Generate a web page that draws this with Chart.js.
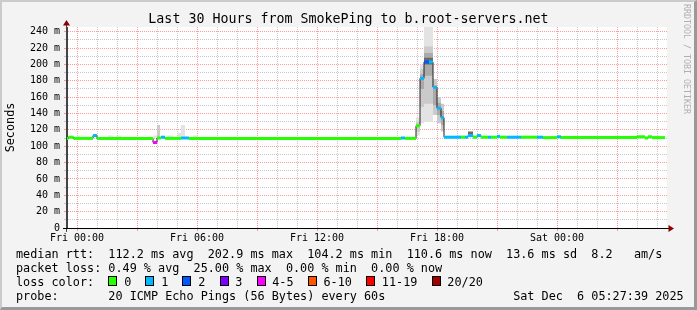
<!DOCTYPE html>
<html>
<head>
<meta charset="utf-8">
<title>SmokePing - b.root-servers.net</title>
<script src="https://cdn.jsdelivr.net/npm/chart.js@4.4.1/dist/chart.umd.min.js"></script>
<style>
  body { margin: 0; background: #fff; }
  #graph { position: relative; width: 697px; height: 310px; background: #f3f3f3; overflow: hidden;
           font-family: 'DejaVu Sans Mono', monospace; color: #000; }
  #graph canvas { position: absolute; left: 0; top: 0; }
  #frame { position: absolute; left: 0; top: 0; width: 697px; height: 310px; box-sizing: border-box;
           border-top: 2px solid #cbcbcb; border-left: 2px solid #cbcbcb;
           border-right: 3px solid #999; border-bottom: 3px solid #999; pointer-events: none; }
  #title { position: absolute; left: 0; top: 11px; width: 697px; text-align: center;
           font-size: 13.3px; line-height: 16px; white-space: pre; }
  .txt { position: absolute; left: 16px; font-size: 11.8px; line-height: 14px; white-space: pre; }
  .box { position: absolute; top: 276px; width: 9px; height: 10px; box-sizing: border-box; border: 1px solid #000; }
  #credit { position: absolute; left: 682px; top: 4px; writing-mode: vertical-rl; font-size: 8.3px;
            line-height: 10px; color: #b0b0b0; white-space: pre; }
</style>
</head>
<body>
<div id="graph">
  <canvas id="chart" width="697" height="310"></canvas>
  <div id="title">Last 30 Hours from SmokePing to b.root-servers.net</div>
  <div class="txt" style="top:247px">median rtt:  112.2 ms avg  202.9 ms max  104.2 ms min  110.6 ms now  13.6 ms sd  8.2   am/s</div>
  <div class="txt" style="top:261px">packet loss: 0.49 % avg  25.00 % max  0.00 % min  0.00 % now</div>
  <div class="txt" id="losses" style="top:275px">loss color:</div>
  <div class="txt" style="top:289px">probe:       20 ICMP Echo Pings (56 Bytes) every 60s                  Sat Dec  6 05:27:39 2025</div>
  <div id="credit">RRDTOOL / TOBI OETIKER</div>
  <div id="frame"></div>
</div>
<script>
// hours counted from Fri 00:00
var xTickHours = [0, 6, 12, 18, 24];
var xTickLabels = ['Fri 00:00', 'Fri 06:00', 'Fri 12:00', 'Fri 18:00', 'Sat 00:00'];
var yTickValues = [0, 20, 40, 60, 80, 100, 120, 140, 160, 180, 200, 220, 240];
var yTickLabels = ['0', '20 m', '40 m', '60 m', '80 m', '100 m', '120 m', '140 m', '160 m', '180 m', '200 m', '220 m', '240 m'];

// median rtt (ms) per step, with lost pings out of 20
var stepHours = [-0.5, -0.43, -0.18, 0.8, 1.0, 3.8, 4.0, 4.2, 4.4, 5.2, 5.6, 16.2, 16.4,
                 16.95, 17.15, 17.35, 17.6, 17.8, 18.0, 18.2, 18.35, 19.2, 19.4, 19.55, 19.8,
                 20.0, 20.2, 20.55, 20.7, 21.0, 21.15, 21.5, 22.2, 23.0, 23.3, 24.0, 24.2,
                 27.98, 28.4, 28.55, 28.75];
var medianMs  = [109.5, 111, 109.5, 113, 109.5, 104.5, 110, 111, 109.5, 110, 109.5, 110, 109.5,
                 125, 183, 203, 203, 172, 146.5, 135, 111, 111, 111, 113, 111,
                 113, 111, 111, 111, 112, 111, 111, 111, 111, 110.5, 111.5, 110.5,
                 111.5, 110, 111.5, 110.5];
var lostPings = [0, 0, 0, 1, 0, 4, 0, 1, 0, 1, 0, 1, 0,
                 0, 1, 2, 1, 1, 1, 1, 1, 0, 1, 1, 0,
                 1, 0, 1, 0, 1, 0, 1, 0, 1, 0, 1, 0,
                 0, 0, 0, 0];
var lastHour = 29.4;

var lossLabels = ['0', '1', '2', '3', '4-5', '6-10', '11-19', '20/20'];
var lossMax    = [0, 1, 2, 3, 5, 10, 19, 20];
var lossColors = ['#26ff00', '#00b8ff', '#0059ff', '#7e00ff', '#ff00ff', '#ff5500', '#ff0000', '#a10000'];

// smoke: spread of the 20 pings, shade 0 = outer (light) .. 3 = inner (dark)
var smokeFrom  = [0.0, 1.55, 1.95, 3.8, 4.0, 4.55, 5.05, 5.2, 5.8,
                  16.95, 16.95, 17.15, 17.15, 17.15, 17.35, 17.35, 17.35, 17.35,
                  17.8, 17.8, 18.0, 18.0, 18.2, 18.2, 19.0, 19.55, 26.9, 28.9];
var smokeTo    = [0.15, 1.8, 2.2, 4.0, 4.15, 4.8, 5.2, 5.4, 6.05,
                  17.15, 17.15, 17.35, 17.35, 17.35, 17.8, 17.8, 17.8, 17.8,
                  18.0, 18.0, 18.2, 18.2, 18.35, 18.35, 19.4, 19.8, 27.15, 29.15];
var smokeLow   = [110, 110, 110, 110, 110, 110, 110, 110, 110,
                  113, 118, 128, 148, 170, 130, 152, 186, 200,
                  138, 150, 128, 138, 118, 126, 110, 113, 110, 110];
var smokeHigh  = [113, 113, 113, 113, 126, 113, 116, 126, 113,
                  135, 130, 200, 194, 188, 250, 222, 214, 208,
                  182, 174, 160, 153, 152, 143, 113, 118, 113, 113];
var smokeShade = [0, 0, 0, 0, 1, 0, 0, 0, 0,
                  0, 1, 0, 1, 2, 0, 1, 2, 3,
                  1, 2, 1, 2, 1, 2, 0, 3, 0, 0];
var shadeColors = ['#e3e3e3', '#cacaca', '#aaaaaa', '#6a6a6a'];

var mono = "'DejaVu Sans Mono', monospace";
var majorGrid = 'rgba(255, 120, 120, 0.75)';
var minorGrid = 'rgba(185, 185, 185, 0.8)';

function lossColor(n) {
    for (var i = 0; i < lossMax.length; i++) {
        if (n <= lossMax[i]) return lossColors[i];
    }
    return lossColors[lossColors.length - 1];
}

function buildLossLegend() {
    var graph = document.getElementById('graph');
    var cw = 7.11;
    var x = 16 + 13 * cw;
    for (var i = 0; i < lossLabels.length; i++) {
        var box = document.createElement('div');
        box.className = 'box';
        box.style.left = x + 'px';
        box.style.background = lossColors[i];
        graph.appendChild(box);
        var lab = document.createElement('div');
        lab.className = 'txt';
        lab.style.top = '275px';
        lab.style.left = (x + 15.7) + 'px';
        lab.textContent = lossLabels[i];
        graph.appendChild(lab);
        x = x + 15.7 + (lossLabels[i].length + 2) * cw;
    }
}

// colored median strips, one piece per step
var medianColors = [];
function medianStrips() {
    var pts = [];
    for (var i = 0; i < stepHours.length; i++) {
        var end = i + 1 < stepHours.length ? stepHours[i + 1] : lastHour;
        var c = lossColor(lostPings[i]);
        pts.push({x: stepHours[i], y: medianMs[i]}, {x: end, y: medianMs[i]}, {x: end, y: null});
        medianColors.push(c, c, c);
    }
    return pts;
}

function medianLine() {
    var pts = [];
    for (var i = 0; i < stepHours.length; i++) {
        pts.push({x: stepHours[i], y: medianMs[i]});
    }
    pts.push({x: lastHour, y: medianMs[medianMs.length - 1]});
    return pts;
}

// each shade = lower edge + upper edge filled in between
function smokeSets() {
    var sets = [];
    for (var s = shadeColors.length - 1; s >= 0; s--) {
        var lo = [], hi = [];
        for (var i = 0; i < smokeFrom.length; i++) {
            if (smokeShade[i] !== s) continue;
            lo.push({x: smokeFrom[i], y: 0}, {x: smokeFrom[i], y: smokeLow[i]}, {x: smokeTo[i], y: smokeLow[i]}, {x: smokeTo[i], y: 0});
            hi.push({x: smokeFrom[i], y: 0}, {x: smokeFrom[i], y: smokeHigh[i]}, {x: smokeTo[i], y: smokeHigh[i]}, {x: smokeTo[i], y: 0});
        }
        sets.push({data: lo, borderWidth: 0, pointRadius: 0, fill: false});
        sets.push({data: hi, borderWidth: 0, pointRadius: 0, fill: '-1', backgroundColor: shadeColors[s]});
    }
    return sets;
}

var rrdFrame = {
    id: 'rrdFrame',
    beforeDraw: function (chart) {
        var a = chart.chartArea, ctx = chart.ctx;
        ctx.save();
        ctx.fillStyle = '#ffffff';
        ctx.fillRect(a.left, a.top, a.right - a.left, a.bottom - a.top);
        ctx.restore();
    },
    afterDraw: function (chart) {
        var a = chart.chartArea, ctx = chart.ctx;
        var x0 = Math.round(a.left) - 0.5, y0 = Math.round(a.bottom) + 0.5;
        ctx.save();
        ctx.lineWidth = 1;
        ctx.strokeStyle = '#444';
        ctx.beginPath();
        ctx.moveTo(x0, a.bottom + 4);
        ctx.lineTo(x0, a.top - 3);
        ctx.stroke();
        ctx.strokeStyle = '#000';
        ctx.beginPath();
        ctx.moveTo(a.left - 4, y0);
        ctx.lineTo(a.right + 3, y0);
        ctx.stroke();
        ctx.fillStyle = '#8b0000';
        ctx.beginPath();
        ctx.moveTo(x0, a.top - 7);
        ctx.lineTo(x0 - 3.5, a.top - 1.5);
        ctx.lineTo(x0 + 3.5, a.top - 1.5);
        ctx.closePath();
        ctx.fill();
        ctx.beginPath();
        ctx.moveTo(a.right + 7, y0);
        ctx.lineTo(a.right + 1.5, y0 - 3.5);
        ctx.lineTo(a.right + 1.5, y0 + 3.5);
        ctx.closePath();
        ctx.fill();
        ctx.restore();
    }
};

function drawChart() {
    var datasets = [{
        data: medianStrips(),
        borderWidth: 3,
        borderCapStyle: 'butt',
        pointRadius: 0,
        spanGaps: false,
        segment: { borderColor: function (ctx) { return medianColors[ctx.p0DataIndex]; } }
    }, {
        data: medianLine(),
        stepped: 'before',
        borderColor: '#202020',
        borderWidth: 1,
        pointRadius: 0
    }].concat(smokeSets());

    new Chart(document.getElementById('chart'), {
        type: 'line',
        data: { datasets: datasets },
        plugins: [rrdFrame],
        options: {
            responsive: false,
            animation: false,
            events: [],
            layout: { padding: { left: 0, right: 30, top: 27, bottom: 0 } },
            plugins: { legend: { display: false }, tooltip: { enabled: false } },
            scales: {
                x: {
                    type: 'linear',
                    min: -0.5,
                    max: 29.5,
                    afterBuildTicks: function (scale) {
                        var t = [];
                        for (var h = 0; h <= 29; h++) t.push({value: h});
                        scale.ticks = t;
                    },
                    afterFit: function (scale) { scale.height = 82; },
                    ticks: {
                        autoSkip: false, maxRotation: 0, padding: 1, color: '#000',
                        font: { family: mono, size: 10 },
                        callback: function (v) {
                            var i = xTickHours.indexOf(v);
                            return i < 0 ? '' : xTickLabels[i];
                        }
                    },
                    grid: {
                        color: function (ctx) { return ctx.tick && ctx.tick.value % 3 === 0 ? majorGrid : minorGrid; },
                        tickColor: function (ctx) { return ctx.tick && ctx.tick.value % 3 === 0 ? majorGrid : 'rgba(0,0,0,0)'; },
                        tickLength: 3
                    },
                    border: { display: true, color: '#000', dash: [1, 1] }
                },
                y: {
                    min: 0,
                    max: 245.7,
                    afterBuildTicks: function (scale) {
                        var t = [];
                        for (var v = 0; v <= 240; v += 10) t.push({value: v});
                        scale.ticks = t;
                    },
                    afterFit: function (scale) { scale.width = 67; },
                    ticks: {
                        autoSkip: false, padding: 4, color: '#000',
                        font: { family: mono, size: 10 },
                        callback: function (v) {
                            var i = yTickValues.indexOf(v);
                            return i < 0 ? '' : yTickLabels[i];
                        }
                    },
                    grid: {
                        color: function (ctx) { return ctx.tick && ctx.tick.value % 20 === 0 ? majorGrid : minorGrid; },
                        tickColor: function (ctx) { return ctx.tick && ctx.tick.value % 20 === 0 ? majorGrid : minorGrid; },
                        tickLength: 3
                    },
                    border: { display: true, color: '#444', dash: [1, 1] },
                    title: {
                        display: true, text: 'Seconds', color: '#000',
                        font: { family: mono, size: 11.8 },
                        padding: { top: 3.5, bottom: 0 }
                    }
                }
            }
        }
    });
}

buildLossLegend();
drawChart();
</script>
</body>
</html>
